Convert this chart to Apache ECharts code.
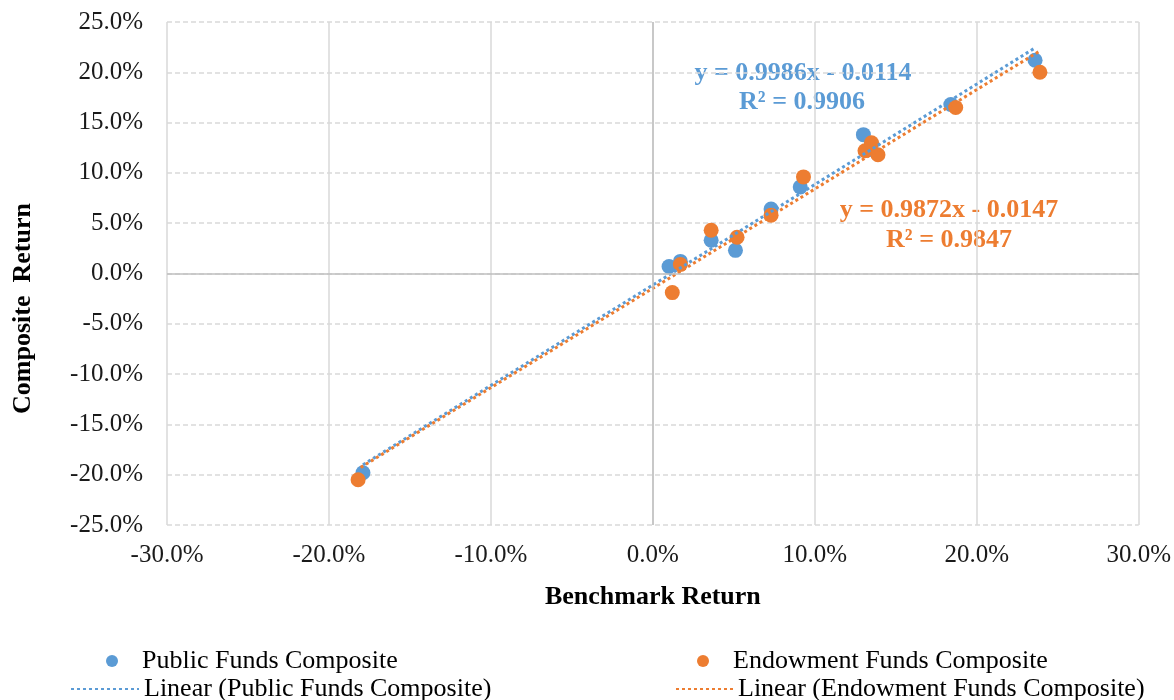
<!DOCTYPE html>
<html>
<head>
<meta charset="utf-8">
<title>Composite vs Benchmark Return</title>
<script src="https://cdn.jsdelivr.net/npm/echarts@6.0.0/dist/echarts.min.js"></script>
<style>
	html, body { margin: 0; padding: 0; background: #fff; }
	#chart { width: 1174px; height: 700px; }
</style>
</head>
<body>
<div id="chart"></div>
<script>
// returns in percent
var publicX = [-17.9, 1.0, 1.7, 3.6, 5.1, 7.3, 9.1, 13.0, 13.5, 13.3, 18.4, 23.6];
var publicY = [-19.8, 0.7, 1.2, 3.3, 2.3, 6.4, 8.6, 13.8, 12.9, 12.3, 16.8, 21.2];
var endowX = [-18.2, 1.2, 1.7, 3.6, 5.2, 7.3, 9.3, 13.1, 13.5, 13.9, 18.7, 23.9];
var endowY = [-20.5, -1.9, 0.9, 4.3, 3.6, 5.8, 9.6, 12.2, 13.0, 11.8, 16.5, 20.0];

// slope, intercept (fraction), R squared
var publicFit = [0.9986, -0.0114, 0.9906];
var endowFit = [0.9872, -0.0147, 0.9847];

var xRange = [-30, 30, 10];
var yRange = [-25, 25, 5];

var names = ["Public Funds Composite", "Endowment Funds Composite",
	"Linear (Public Funds Composite)", "Linear (Endowment Funds Composite)"];

window.onload = function () {

	var BLUE = "#5B9BD5";
	var ORANGE = "#ED7D31";
	var FONT = "Liberation Serif";

	function pairs(xs, ys) {
		var out = [];
		for (var i = 0; i < xs.length; i++) {
			out.push([xs[i], ys[i]]);
		}
		return out;
	}

	function trend(xs, fit) {
		var lo = Math.min.apply(null, xs);
		var hi = Math.max.apply(null, xs);
		return [[lo, fit[0] * lo + fit[1] * 100], [hi, fit[0] * hi + fit[1] * 100]];
	}

	function eq(fit) {
		return "y = " + fit[0] + "x - " + Math.abs(fit[1]);
	}

	function pct(v) {
		return (Math.round(v * 10) / 10).toFixed(1) + "%";
	}

	var chart = echarts.init(document.getElementById("chart"));

	var legendText = { fontFamily: FONT, fontSize: 26, color: "#000" };
	var eqFont = "bold 26px 'Liberation Serif'";

	var option = {
		animation: false,
		backgroundColor: "#fff",
		grid: { left: 167, right: 34, top: 22, bottom: 175 },
		xAxis: {
			type: "value",
			min: xRange[0], max: xRange[1], interval: xRange[2],
			name: "Benchmark Return",
			nameLocation: "middle",
			nameGap: 59,
			nameTextStyle: { fontFamily: FONT, fontSize: 26, fontWeight: "bold", color: "#000" },
			axisLine: { show: false },
			axisTick: { show: false },
			axisLabel: { formatter: pct, fontFamily: FONT, fontSize: 25, color: "#1a1a1a", margin: 18 },
			splitLine: { show: true, lineStyle: { color: "#d9d9d9", width: 1.5 } }
		},
		yAxis: {
			type: "value",
			min: yRange[0], max: yRange[1], interval: yRange[2],
			name: "Composite  Return",
			nameLocation: "middle",
			nameRotate: 90,
			nameGap: 131,
			nameTextStyle: { fontFamily: FONT, fontSize: 26, fontWeight: "bold", color: "#000", padding: [0, 70, 0, 0] },
			axisLine: { show: false },
			axisTick: { show: false },
			axisLabel: { formatter: pct, fontFamily: FONT, fontSize: 25, color: "#1a1a1a", margin: 24 },
			splitLine: { show: true, lineStyle: { color: "#d9d9d9", width: 1.5, type: [5, 3] } }
		},
		legend: [
			{ data: [names[0]], left: 106, top: 648, padding: 0, itemWidth: 50, itemHeight: 12, textStyle: legendText },
			{ data: [names[2]], left: 70, top: 676, padding: 0, itemWidth: 68, itemHeight: 12, textStyle: legendText, itemStyle: { opacity: 0 } },
			{ data: [names[1]], left: 697, top: 648, padding: 0, itemWidth: 50, itemHeight: 12, textStyle: legendText },
			{ data: [names[3]], left: 672, top: 676, padding: 0, itemWidth: 60, itemHeight: 12, textStyle: legendText, itemStyle: { opacity: 0 } }
		],
		series: [
			{
				name: names[0],
				type: "scatter",
				symbolSize: 15,
				itemStyle: { color: BLUE, opacity: 1 },
				data: pairs(publicX, publicY),
				markLine: {
					silent: true,
					symbol: ["none", "none"],
					label: { show: false },
					lineStyle: { color: "#bfbfbf", type: "solid", width: 1.5 },
					data: [{ xAxis: 0 }, { yAxis: 0 }]
				}
			},
			{
				name: names[1],
				type: "scatter",
				symbolSize: 15,
				itemStyle: { color: ORANGE, opacity: 1 },
				data: pairs(endowX, endowY)
			},
			{
				name: names[2],
				type: "line",
				symbol: "none",
				z: 3,
				lineStyle: { color: BLUE, width: 3, type: [3, 3] },
				itemStyle: { color: BLUE },
				data: trend(publicX, publicFit)
			},
			{
				name: names[3],
				type: "line",
				symbol: "none",
				z: 3,
				lineStyle: { color: ORANGE, width: 3, type: [3, 3], dashOffset: 3 },
				itemStyle: { color: ORANGE },
				data: trend(endowX, endowFit)
			}
		],
		graphic: [
			{ type: "text", x: 803, y: 73, style: { text: eq(publicFit), fill: BLUE, font: eqFont, align: "center", verticalAlign: "middle", stroke: "#fff", lineWidth: 2 } },
			{ type: "text", x: 802, y: 102, style: { text: "R² = " + publicFit[2], fill: BLUE, font: eqFont, align: "center", verticalAlign: "middle", stroke: "#fff", lineWidth: 2 } },
			{ type: "text", x: 949, y: 210, style: { text: eq(endowFit), fill: ORANGE, font: eqFont, align: "center", verticalAlign: "middle", stroke: "#fff", lineWidth: 2 } },
			{ type: "text", x: 949, y: 240, style: { text: "R² = " + endowFit[2], fill: ORANGE, font: eqFont, align: "center", verticalAlign: "middle", stroke: "#fff", lineWidth: 2 } }
		]
	};

	chart.setOption(option);
}
</script>
</body>
</html>
